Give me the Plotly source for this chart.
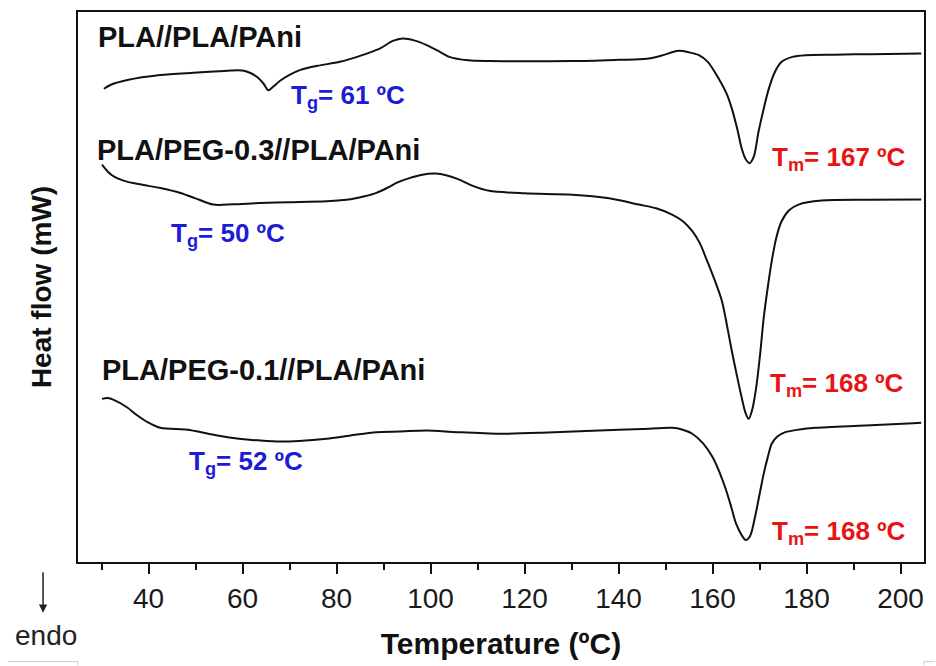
import plotly.graph_objects as go

# ---------------- data ----------------
# Temperature (ºC) and heat flow (arbitrary units, curves offset vertically)
t_pla = [30.5, 32, 35.5, 42.5, 49.6, 55, 57.5, 60, 61.8, 63.3, 64.5, 65.5, 66.5, 68, 70,
         72.2, 76, 80.7, 85, 89.2, 92, 94.1, 96.5, 99.2, 102, 104, 108, 112.6, 120, 130.2,
         140, 146, 149, 152.8, 155, 157.1, 159, 161.3, 163, 164.1, 165.3, 166.2, 167.1,
         167.9, 168.8, 169.8, 171, 172.0, 173.3, 174.7, 177, 179.8, 186, 193.8, 204.4]
hf_pla = [475, 479, 483.7, 488.7, 491, 492.5, 493.3, 493.2, 490.5, 486, 480, 473.5, 477,
          483, 489, 493.7, 498, 502, 508, 515.3, 523, 525.3, 523.5, 518.7, 512, 507, 503.5,
          502.7, 502.5, 502.7, 504, 505, 508, 513, 511.5, 508.7, 502, 485.3, 470, 455.3,
          434, 415.3, 404, 400.3, 407, 432, 457, 475.3, 492, 502, 507, 508.7, 509.2, 509.7,
          510.3]

t_peg03 = [30.1, 31.3, 32.6, 34.5, 36.7, 40, 42.5, 46.8, 50, 53.8, 58, 63.8, 70, 77.9,
           83, 86, 88.5, 91, 93, 95.5, 98, 101, 103.5, 106, 109, 112.5, 120, 130.2, 138,
           144.4, 148, 151.4, 153.7, 155.7, 157.3, 158.6, 160.3, 162.0, 163.1, 164.1,
           165.2, 166.2, 167, 167.7, 168.4, 169.2, 170.1, 170.9, 171.8, 172.6, 173.6,
           174.7, 176.3, 178.3, 183.2, 193, 204.4]
hf_peg03 = [398.7, 392, 387, 383, 380.3, 377.5, 375.3, 370.3, 365, 358.7, 359, 360.3, 361,
            362, 364, 367, 370.5, 376, 381, 385.3, 388.5, 389.8, 388, 384, 377.5, 372.5,
            370, 368.7, 365, 358.7, 355, 348.7, 342, 332, 320, 305.3, 285, 262, 237, 212,
            187, 165.3, 150, 143.7, 152, 172, 207, 245.3, 277, 302, 326, 342, 353, 358.7,
            362.7, 363.5, 363.7]

t_peg01 = [30.1, 31.3, 32.6, 35.4, 37.5, 39.8, 42.5, 48.3, 52.5, 56.8, 62, 67.4, 72,
           77.9, 83, 88.5, 93.5, 99.2, 105.6, 114.7, 125, 135.9, 145, 151.4, 153.5,
           155.7, 158, 160, 161.5, 162.9, 164, 165, 166.2, 167.1, 168, 169.2, 170.1,
           170.9, 171.8, 172.6, 173.8, 175.5, 178.5, 181.9, 192.5, 202.7, 204.4]
hf_peg01 = [163.7, 164.5, 162.7, 155.3, 147.5, 140.3, 134.7, 132.7, 129, 125.3, 122.5,
            121, 121.5, 123.7, 127, 130.3, 131, 132, 130.3, 128.7, 130, 132, 133.5, 134.7,
            133, 128.7, 119, 105.3, 90, 72, 55, 38.7, 27, 22, 26, 48.7, 70, 88.7, 106,
            118.7, 126, 130.3, 133, 134.7, 137, 139.3, 139.7]

series_names = ["PLA//PLA/PAni", "PLA/PEG-0.3//PLA/PAni", "PLA/PEG-0.1//PLA/PAni"]
tg_labels = ["T<sub>g</sub>= 61 ºC", "T<sub>g</sub>= 50 ºC", "T<sub>g</sub>= 52 ºC"]
tm_labels = ["T<sub>m</sub>= 167 ºC", "T<sub>m</sub>= 168 ºC", "T<sub>m</sub>= 168 ºC"]
x_ticks = [40, 60, 80, 100, 120, 140, 160, 180, 200]

# ---------------- layout geometry ----------------
W, H = 936, 666
L, R, T, B = 78, 925, 10, 562


def px(xp):
    return (xp - L) / (R - L)


def py(yp):
    return (B - yp) / (B - T)


FONT = "Arial, Liberation Sans, sans-serif"
BLUE = "rgb(28,28,214)"
RED = "rgb(232,20,20)"

fig = go.Figure()
for tt, hh, nm in [(t_pla, hf_pla, series_names[0]),
                   (t_peg03, hf_peg03, series_names[1]),
                   (t_peg01, hf_peg01, series_names[2])]:
    fig.add_trace(go.Scatter(x=tt, y=hh, mode="lines", name=nm,
                             line=dict(color="#111111", width=2, shape="spline", smoothing=0.8),
                             showlegend=False))

ann = []
# curve names
for nm, (x0, y0) in zip(series_names, [(96, 35), (95, 149), (100, 369)]):
    ann.append(dict(text="<b>%s</b>" % nm, x=px(x0), y=py(y0), xref="paper", yref="paper",
                    xanchor="left", yanchor="middle", showarrow=False,
                    font=dict(family=FONT, size=29, color="#111111")))
# Tg labels
for lab, (x0, y0) in zip(tg_labels, [(289, 95), (169, 233), (187, 462)]):
    ann.append(dict(text="<b>%s</b>" % lab, x=px(x0), y=py(y0), xref="paper", yref="paper",
                    xanchor="left", yanchor="middle", showarrow=False,
                    font=dict(family=FONT, size=26, color=BLUE)))
# Tm labels
for lab, (x0, y0) in zip(tm_labels, [(771, 157), (769, 384), (771, 532)]):
    ann.append(dict(text="<b>%s</b>" % lab, x=px(x0), y=py(y0), xref="paper", yref="paper",
                    xanchor="left", yanchor="middle", showarrow=False,
                    font=dict(family=FONT, size=26, color=RED)))
# endo arrow + text
ann.append(dict(text="", x=px(43), y=py(613), xref="paper", yref="paper",
                ax=0, ay=-42, showarrow=True, arrowhead=2, arrowsize=1.1,
                arrowwidth=1.5, arrowcolor="#222222"))
ann.append(dict(text="endo", x=px(46), y=py(636), xref="paper", yref="paper",
                xanchor="center", yanchor="middle", showarrow=False,
                font=dict(family=FONT, size=28, color="#222222")))

shapes = [
    dict(type="line", xref="paper", yref="paper", x0=px(8), x1=px(78), y0=py(662), y1=py(662),
         line=dict(color="#cccccc", width=1)),
    dict(type="line", xref="paper", yref="paper", x0=px(78), x1=px(78), y0=py(662), y1=py(666),
         line=dict(color="#cccccc", width=1)),
    dict(type="line", xref="paper", yref="paper", x0=px(925), x1=px(936), y0=py(662), y1=py(662),
         line=dict(color="#cccccc", width=1)),
    dict(type="line", xref="paper", yref="paper", x0=px(925), x1=px(925), y0=py(662), y1=py(666),
         line=dict(color="#cccccc", width=1)),
]

fig.update_layout(
    width=W, height=H,
    margin=dict(l=L, r=W - R, t=T, b=H - B, pad=0),
    paper_bgcolor="white", plot_bgcolor="white",
    annotations=ann, shapes=shapes,
    xaxis=dict(range=[25, 205], showgrid=False, zeroline=False,
               showline=True, linecolor="#111111", linewidth=2, mirror=True,
               ticks="outside", ticklen=10, tickwidth=2, tickcolor="#111111",
               tickvals=x_ticks, ticktext=[str(v) for v in x_ticks],
               minor=dict(dtick=10, tick0=0, ticks="outside", ticklen=6, tickwidth=2,
                          tickcolor="#111111"),
               tickfont=dict(family=FONT, size=28, color="#1a1a1a"),
               title=dict(text="<b>Temperature (ºC)</b>", standoff=20,
                          font=dict(family=FONT, size=30, color="#111111"))),
    yaxis=dict(range=[0, 552], showgrid=False, zeroline=False, showticklabels=False,
               showline=True, linecolor="#111111", linewidth=2, mirror=True, ticks="",
               title=dict(text="<b>Heat flow (mW)</b>", standoff=16,
                          font=dict(family=FONT, size=28, color="#111111"))),
)

fig.write_html("out.html")
